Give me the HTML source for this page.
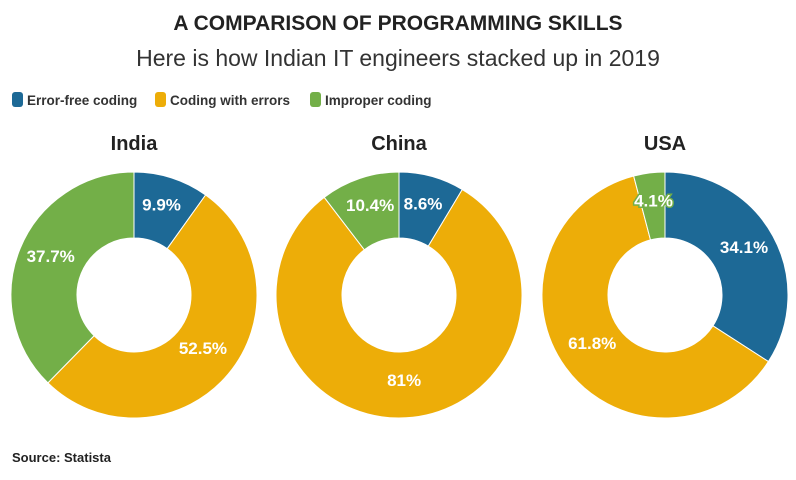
<!DOCTYPE html>
<html><head><meta charset="utf-8"><style>
body{margin:0;background:#fff;width:796px;height:475px;overflow:hidden;font-family:"Liberation Sans",sans-serif;}
</style></head><body>
<svg id="s" width="796" height="475" xmlns="http://www.w3.org/2000/svg" font-family="Liberation Sans, sans-serif">
<text x="398" y="30" text-anchor="middle" font-size="21" font-weight="bold" fill="#222">A COMPARISON OF PROGRAMMING SKILLS</text>
<text x="398" y="66" text-anchor="middle" font-size="23" fill="#333">Here is how Indian IT engineers stacked up in 2019</text>
<rect x="12" y="92" width="11" height="15" rx="3" fill="#1d6996"/>
<text x="27" y="105" font-size="13.5" font-weight="bold" fill="#333">Error-free coding</text>
<rect x="155" y="92" width="11" height="15" rx="3" fill="#edad08"/>
<text x="170" y="105" font-size="13.5" font-weight="bold" fill="#333">Coding with errors</text>
<rect x="310" y="92" width="11" height="15" rx="3" fill="#73af48"/>
<text x="325" y="105" font-size="13.5" font-weight="bold" fill="#333">Improper coding</text>
<text x="134" y="150" text-anchor="middle" font-size="20" font-weight="bold" fill="#222">India</text>
<text x="399" y="150" text-anchor="middle" font-size="20" font-weight="bold" fill="#222">China</text>
<text x="665" y="150" text-anchor="middle" font-size="20" font-weight="bold" fill="#222">USA</text>
<text x="12" y="462" font-size="13" font-weight="bold" fill="#222">Source: Statista</text>
<g id="g"></g>
</svg>
<script>
var cols=["#1d6996","#edad08","#73af48"];
var data=[[134,[9.9,52.5,37.7],["9.9%","52.5%","37.7%"]],[399,[8.6,81,10.4],["8.6%","81%","10.4%"]],[665,[34.1,61.8,4.1],["34.1%","61.8%","4.1%"]]];
var cy=295,R=123,r=57,h="";
data.forEach(function(d){
 var cx=d[0],tot=d[1].reduce(function(a,b){return a+b},0),a=0;
 var labels="";
 d[1].forEach(function(v,i){
  var a0=a/tot*2*Math.PI,a1=(a+v)/tot*2*Math.PI;a+=v;
  function p(rr,t){return [cx+rr*Math.sin(t),cy-rr*Math.cos(t)];}
  var l=(a1-a0)>Math.PI?1:0,P1=p(R,a0),P2=p(R,a1),P3=p(r,a1),P4=p(r,a0);
  h+='<path d="M'+P1+' A'+R+','+R+' 0 '+l+' 1 '+P2+' L'+P3+' A'+r+','+r+' 0 '+l+' 0 '+P4+'Z" fill="'+cols[i]+'" stroke="#fff" stroke-width="1"/>';
  var m=(a0+a1)/2,L=p(90,m);
  labels+='<text x="'+L[0]+'" y="'+(L[1]+1)+'" text-anchor="middle" font-size="17" font-weight="bold" fill="#fff" stroke="'+cols[i]+'" stroke-width="3" paint-order="stroke">'+d[2][i]+'</text>';
 });
 h+=labels;
});
document.getElementById("g").innerHTML=h;
</script>
</body></html>
